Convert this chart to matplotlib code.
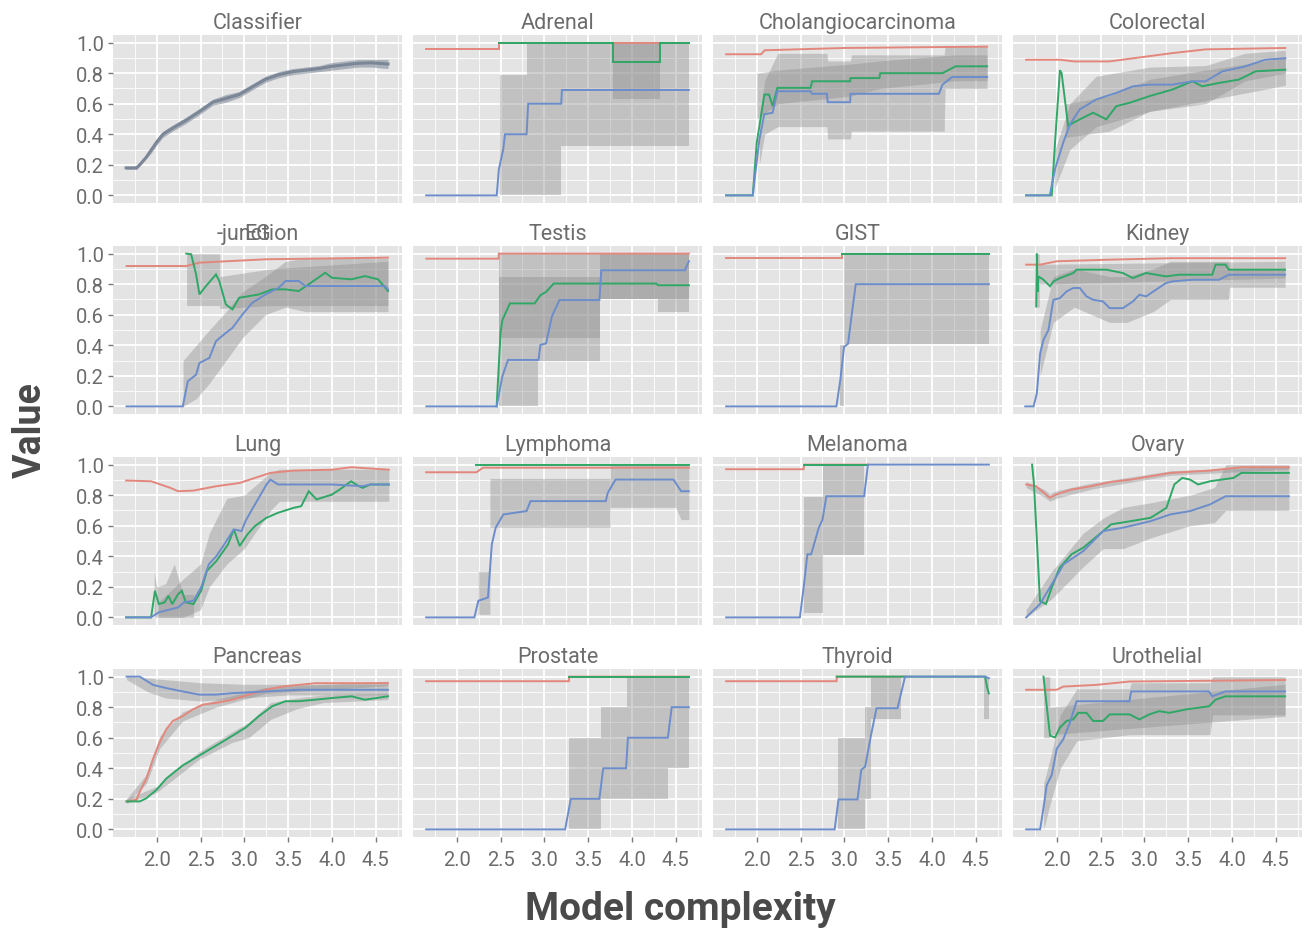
import numpy as np
import matplotlib
matplotlib.use("Agg")
import matplotlib.pyplot as plt

plt.rcParams['font.family'] = ['Roboto', 'DejaVu Sans']

# ---------------- data ----------------
panel_titles = ["Classifier", "Adrenal", "Cholangiocarcinoma", "Colorectal",
                "EG|-junction", "Testis", "GIST", "Kidney",
                "Lung", "Lymphoma", "Melanoma", "Ovary",
                "Pancreas", "Prostate", "Thyroid", "Urothelial"]
y_ticks = [0.0, 0.2, 0.4, 0.6, 0.8, 1.0]
y_tick_labels = ["0.0", "0.2", "0.4", "0.6", "0.8", "1.0"]
x_ticks = [2.0, 2.5, 3.0, 3.5, 4.0, 4.5]
x_tick_labels = ["2.0", "2.5", "3.0", "3.5", "4.0", "4.5"]

# Classifier (single series)
classifier_x = [1.65, 1.70, 1.77, 1.82, 1.88, 1.94, 2.00, 2.07, 2.18, 2.33, 2.49, 2.64, 2.79, 2.94,
                3.09, 3.24, 3.39, 3.55, 3.70, 3.85, 4.00, 4.15, 4.30, 4.45, 4.64]
classifier_y = [0.18, 0.18, 0.18, 0.21, 0.25, 0.30, 0.35, 0.40, 0.44, 0.49, 0.55, 0.61, 0.635, 0.66,
                0.71, 0.76, 0.79, 0.81, 0.82, 0.83, 0.845, 0.855, 0.865, 0.868, 0.86]
classifier_lo = [0.17, 0.17, 0.17, 0.20, 0.24, 0.28, 0.33, 0.38, 0.42, 0.47, 0.53, 0.59, 0.61, 0.64,
                 0.69, 0.74, 0.77, 0.79, 0.80, 0.81, 0.82, 0.83, 0.84, 0.84, 0.83]
classifier_hi = [0.19, 0.19, 0.19, 0.22, 0.26, 0.31, 0.37, 0.42, 0.46, 0.51, 0.57, 0.63, 0.66, 0.68,
                 0.73, 0.78, 0.81, 0.83, 0.84, 0.85, 0.87, 0.88, 0.89, 0.89, 0.89]

# Adrenal
adrenal_red_x = [1.65, 2.48, 2.48, 4.65]
adrenal_red_y = [0.96, 0.96, 1.0, 1.0]
adrenal_green_x = [2.48, 3.78, 3.78, 4.32, 4.32, 4.65]
adrenal_green_y = [1.0, 1.0, 0.87, 0.87, 1.0, 1.0]
adrenal_blue_x = [1.65, 2.456, 2.48, 2.53, 2.551, 2.797, 2.815, 3.193, 3.20, 4.65]
adrenal_blue_y = [0.0, 0.0, 0.17, 0.30, 0.40, 0.40, 0.60, 0.60, 0.69, 0.69]
adrenal_green_band_x = [3.78, 4.32]
adrenal_green_band_lo = [0.63, 0.63]
adrenal_green_band_hi = [1.0, 1.0]
adrenal_blue_band_x = [2.49, 2.80, 2.80, 3.19, 3.19, 4.65]
adrenal_blue_band_lo = [0.0, 0.0, 0.0, 0.0, 0.325, 0.325]
adrenal_blue_band_hi = [0.79, 0.79, 1.0, 1.0, 1.0, 1.0]

# Cholangiocarcinoma
cholangio_red_x = [1.65, 2.05, 2.09, 3.0, 4.63]
cholangio_red_y = [0.924, 0.924, 0.95, 0.965, 0.974]
cholangio_green_x = [1.65, 1.954, 2.0, 2.086, 2.14, 2.18, 2.236, 2.614, 2.632, 3.066, 3.07, 3.40, 3.41,
                     4.12, 4.27, 4.63]
cholangio_green_y = [0.0, 0.0, 0.346, 0.66, 0.66, 0.585, 0.704, 0.704, 0.747, 0.747, 0.768, 0.768, 0.80,
                     0.80, 0.845, 0.845]
cholangio_blue_x = [1.65, 1.954, 2.03, 2.086, 2.18, 2.236, 2.614, 2.632, 2.80, 2.81, 3.066, 3.07, 4.08,
                    4.12, 4.23, 4.63]
cholangio_blue_y = [0.0, 0.0, 0.368, 0.531, 0.541, 0.682, 0.682, 0.665, 0.665, 0.61, 0.61, 0.665, 0.665,
                    0.725, 0.775, 0.775]
cholangio_green_band_x = [2.0, 2.24, 3.07, 3.41, 4.27, 4.63]
cholangio_green_band_lo = [0.5, 0.6, 0.65, 0.7, 0.75, 0.75]
cholangio_green_band_hi = [0.8, 0.82, 0.86, 0.88, 0.92, 0.92]
cholangio_blue_band_x = [2.03, 2.09, 2.24, 2.80, 2.81, 3.07, 3.08, 4.14, 4.15, 4.63]
cholangio_blue_band_lo = [0.2, 0.4, 0.45, 0.45, 0.37, 0.37, 0.42, 0.42, 0.70, 0.70]
cholangio_blue_band_hi = [0.5, 0.75, 0.93, 0.93, 0.88, 0.88, 0.92, 0.92, 0.98, 0.98]

# Colorectal
colorectal_red_x = [1.65, 2.04, 2.2, 2.6, 3.3, 3.7, 4.61]
colorectal_red_y = [0.888, 0.888, 0.877, 0.877, 0.93, 0.956, 0.965]
colorectal_green_x = [1.65, 1.942, 1.98, 2.036, 2.055, 2.13, 2.19, 2.34, 2.415, 2.565, 2.68, 2.83, 3.06,
                      3.32, 3.55, 3.66, 3.85, 4.08, 4.27, 4.61]
colorectal_green_y = [0.0, 0.0, 0.346, 0.82, 0.80, 0.455, 0.476, 0.52, 0.541, 0.498, 0.584, 0.606, 0.65,
                      0.693, 0.747, 0.714, 0.736, 0.758, 0.812, 0.823]
colorectal_blue_x = [1.65, 1.92, 1.98, 2.074, 2.15, 2.263, 2.45, 2.68, 2.87, 3.06, 3.32, 3.55, 3.70, 3.89,
                     4.15, 4.38, 4.61]
colorectal_blue_y = [0.0, 0.0, 0.173, 0.346, 0.465, 0.563, 0.628, 0.671, 0.714, 0.725, 0.725, 0.747,
                     0.747, 0.812, 0.844, 0.888, 0.898]
colorectal_green_band_x = [2.1, 2.6, 3.06, 3.7, 4.61]
colorectal_green_band_lo = [0.38, 0.42, 0.55, 0.62, 0.72]
colorectal_green_band_hi = [0.6, 0.65, 0.76, 0.82, 0.9]
colorectal_blue_band_x = [1.98, 2.15, 2.45, 3.06, 3.70, 4.15, 4.61]
colorectal_blue_band_lo = [0.05, 0.3, 0.45, 0.55, 0.6, 0.75, 0.8]
colorectal_blue_band_hi = [0.3, 0.6, 0.78, 0.84, 0.85, 0.93, 0.95]

# EG-junction
eg_red_x = [1.655, 2.336, 2.487, 3.243, 4.64]
eg_red_y = [0.919, 0.919, 0.941, 0.963, 0.974]
eg_green_x = [2.336, 2.392, 2.449, 2.487, 2.562, 2.676, 2.713, 2.789, 2.864, 2.94, 3.053, 3.166, 3.318,
              3.47, 3.62, 3.734, 3.923, 4.0, 4.225, 4.376, 4.527, 4.64]
eg_green_y = [1.0, 0.996, 0.864, 0.733, 0.788, 0.864, 0.821, 0.667, 0.635, 0.711, 0.722, 0.733, 0.766,
              0.766, 0.755, 0.799, 0.875, 0.842, 0.832, 0.853, 0.832, 0.755]
eg_blue_x = [1.655, 2.297, 2.354, 2.449, 2.487, 2.60, 2.676, 2.789, 2.864, 2.978, 3.09, 3.243, 3.394,
             3.47, 3.62, 3.696, 4.603, 4.64]
eg_blue_y = [0.0, 0.0, 0.164, 0.208, 0.284, 0.317, 0.427, 0.481, 0.514, 0.602, 0.678, 0.733, 0.777,
             0.821, 0.821, 0.788, 0.788, 0.766]
eg_green_band_x = [2.34, 2.72, 2.72, 3.3, 4.64]
eg_green_band_lo = [0.66, 0.66, 0.64, 0.66, 0.66]
eg_green_band_hi = [1.0, 1.0, 0.85, 0.9, 0.95]
eg_blue_band_x = [2.30, 2.45, 2.6, 2.79, 2.98, 3.24, 3.47, 3.70, 4.64]
eg_blue_band_lo = [0.0, 0.05, 0.15, 0.3, 0.45, 0.6, 0.65, 0.62, 0.62]
eg_blue_band_hi = [0.3, 0.4, 0.5, 0.62, 0.75, 0.85, 0.95, 0.97, 0.97]

# Testis
testis_red_x = [1.652, 2.477, 2.48, 4.65]
testis_red_y = [0.967, 0.967, 1.0, 1.0]
testis_green_x = [2.455, 2.477, 2.499, 2.52, 2.607, 2.889, 2.955, 3.02, 3.107, 4.28, 4.30, 4.65]
testis_green_y = [0.0, 0.239, 0.478, 0.565, 0.674, 0.674, 0.728, 0.75, 0.804, 0.804, 0.793, 0.793]
testis_blue_x = [1.652, 2.455, 2.52, 2.585, 2.933, 2.955, 3.02, 3.085, 3.172, 3.628, 3.65, 4.605, 4.65]
testis_blue_y = [0.0, 0.0, 0.196, 0.304, 0.304, 0.402, 0.413, 0.587, 0.696, 0.696, 0.891, 0.891, 0.95]
testis_green_band_x = [2.48, 3.63, 3.63, 4.30, 4.30, 4.65]
testis_green_band_lo = [0.45, 0.45, 0.70, 0.70, 0.62, 0.62]
testis_green_band_hi = [0.85, 0.85, 1.0, 1.0, 1.0, 1.0]
testis_blue_band_x = [2.48, 2.933, 2.933, 3.63, 3.63, 4.65]
testis_blue_band_lo = [0.0, 0.0, 0.30, 0.30, 0.70, 0.70]
testis_blue_band_hi = [1.0, 1.0, 1.0, 1.0, 1.0, 1.0]

# GIST
gist_red_x = [1.65, 2.975, 2.975, 4.65]
gist_red_y = [0.97, 0.97, 1.0, 1.0]
gist_green_x = [2.975, 4.65]
gist_green_y = [1.0, 1.0]
gist_blue_x = [1.65, 2.909, 2.953, 2.997, 3.042, 3.086, 3.13, 4.65]
gist_blue_y = [0.0, 0.0, 0.17, 0.39, 0.41, 0.61, 0.80, 0.80]
gist_blue_band_x = [2.953, 3.0, 3.0, 4.65]
gist_blue_band_lo = [0.0, 0.0, 0.41, 0.41]
gist_blue_band_hi = [0.4, 0.4, 1.0, 1.0]

# Kidney
kidney_red_x = [1.65, 1.81, 2.0, 2.57, 3.3, 4.607]
kidney_red_y = [0.928, 0.928, 0.95, 0.96, 0.97, 0.97]
kidney_green_x = [1.765, 1.772, 1.78, 1.791, 1.848, 1.923, 1.961, 2.037, 2.188, 2.226, 2.566, 2.755,
                  2.869, 3.02, 3.246, 3.397, 3.775, 3.813, 3.926, 3.964, 4.607]
kidney_green_y = [0.654, 1.0, 0.75, 0.851, 0.829, 0.786, 0.818, 0.84, 0.873, 0.895, 0.895, 0.873,
                  0.84, 0.873, 0.851, 0.862, 0.862, 0.928, 0.928, 0.895, 0.895]
kidney_blue_x = [1.64, 1.735, 1.772, 1.81, 1.848, 1.905, 1.961, 2.037, 2.112, 2.188, 2.263, 2.339,
                 2.415, 2.528, 2.604, 2.755, 2.869, 2.944, 3.02, 3.133, 3.246, 3.32, 3.548, 3.85,
                 3.964, 4.607]
kidney_blue_y = [0.0, 0.0, 0.085, 0.348, 0.435, 0.501, 0.698, 0.709, 0.753, 0.775, 0.775, 0.72, 0.698,
                 0.687, 0.643, 0.643, 0.687, 0.731, 0.72, 0.764, 0.807, 0.818, 0.829, 0.829, 0.862,
                 0.862]
kidney_green_band_x = [1.765, 1.80, 1.80, 4.607]
kidney_green_band_lo = [0.65, 0.65, 0.80, 0.84]
kidney_green_band_hi = [1.0, 1.0, 0.93, 0.95]
kidney_blue_band_x = [1.81, 1.96, 2.2, 2.6, 2.8, 3.1, 3.3, 3.96, 3.97, 4.607]
kidney_blue_band_lo = [0.2, 0.55, 0.65, 0.55, 0.55, 0.62, 0.7, 0.7, 0.78, 0.78]
kidney_blue_band_hi = [0.5, 0.85, 0.9, 0.85, 0.85, 0.9, 0.95, 0.95, 0.9, 0.9]

# Lung
lung_red_x = [1.65, 1.935, 2.155, 2.243, 2.419, 2.682, 2.946, 3.121, 3.297, 3.561, 4.0, 4.219, 4.65]
lung_red_y = [0.896, 0.891, 0.848, 0.826, 0.83, 0.859, 0.88, 0.913, 0.946, 0.961, 0.967, 0.983, 0.967]
lung_green_x = [1.65, 1.935, 1.979, 2.023, 2.089, 2.133, 2.177, 2.243, 2.287, 2.331, 2.419, 2.506,
                2.572, 2.682, 2.814, 2.88, 2.946, 3.034, 3.121, 3.253, 3.385, 3.561, 3.649, 3.736,
                3.824, 4.0, 4.088, 4.219, 4.307, 4.351, 4.439, 4.65]
lung_green_y = [0.0, 0.0, 0.174, 0.087, 0.098, 0.141, 0.087, 0.152, 0.174, 0.098, 0.087, 0.174, 0.304,
                0.37, 0.478, 0.576, 0.467, 0.543, 0.598, 0.652, 0.685, 0.717, 0.728, 0.826, 0.772,
                0.804, 0.837, 0.891, 0.859, 0.848, 0.87, 0.87]
lung_blue_x = [1.65, 1.935, 2.023, 2.243, 2.309, 2.419, 2.506, 2.594, 2.682, 2.77, 2.88, 2.968, 3.012,
               3.077, 3.165, 3.253, 3.297, 3.385, 4.0, 4.351, 4.439, 4.65]
lung_blue_y = [0.0, 0.0, 0.033, 0.065, 0.098, 0.109, 0.196, 0.348, 0.402, 0.478, 0.576, 0.565, 0.63,
               0.696, 0.783, 0.87, 0.902, 0.87, 0.87, 0.859, 0.87, 0.87]
lung_green_band_x = [1.97, 2.0, 2.1, 2.2, 2.3, 2.42]
lung_green_band_lo = [0.0, 0.0, 0.0, 0.0, 0.0, 0.0]
lung_green_band_hi = [0.3, 0.2, 0.22, 0.35, 0.15, 0.15]
lung_blue_band_x = [2.02, 2.3, 2.5, 2.6, 2.8, 3.0, 3.3, 3.4, 4.65]
lung_blue_band_lo = [0.0, 0.0, 0.05, 0.2, 0.35, 0.45, 0.7, 0.76, 0.76]
lung_blue_band_hi = [0.1, 0.25, 0.35, 0.55, 0.78, 0.8, 0.95, 0.97, 0.97]

# Lymphoma
lymphoma_red_x = [1.65, 2.224, 2.3, 4.65]
lymphoma_red_y = [0.95, 0.95, 0.98, 0.98]
lymphoma_green_x = [2.224, 4.65]
lymphoma_green_y = [1.0, 1.0]
lymphoma_blue_x = [1.65, 2.201, 2.246, 2.356, 2.378, 2.40, 2.444, 2.532, 2.797, 2.841, 3.701, 3.724,
                   3.812, 4.474, 4.562, 4.65]
lymphoma_blue_y = [0.0, 0.0, 0.109, 0.13, 0.304, 0.478, 0.587, 0.674, 0.696, 0.761, 0.761, 0.815,
                   0.902, 0.902, 0.826, 0.826]
lymphoma_blue_band_x = [2.246, 2.378, 2.378, 3.75, 3.75, 4.5, 4.56, 4.65]
lymphoma_blue_band_lo = [0.02, 0.02, 0.59, 0.59, 0.72, 0.72, 0.64, 0.64]
lymphoma_blue_band_hi = [0.3, 0.3, 0.91, 0.91, 1.0, 1.0, 1.0, 1.0]

# Melanoma
melanoma_red_x = [1.65, 2.535, 2.54, 3.27]
melanoma_red_y = [0.97, 0.97, 1.0, 1.0]
melanoma_green_x = [2.535, 3.269]
melanoma_green_y = [1.0, 1.0]
melanoma_blue_x = [1.65, 2.492, 2.535, 2.578, 2.621, 2.664, 2.708, 2.751, 2.794, 3.226, 3.269, 4.65]
melanoma_blue_y = [0.0, 0.0, 0.196, 0.413, 0.413, 0.50, 0.587, 0.641, 0.793, 0.793, 1.0, 1.0]
melanoma_blue_band_x = [2.535, 2.751, 2.751, 3.226]
melanoma_blue_band_lo = [0.03, 0.03, 0.41, 0.41]
melanoma_blue_band_hi = [0.79, 0.79, 1.0, 1.0]

# Ovary
ovary_red_x = [1.65, 1.763, 1.853, 1.921, 1.988, 2.169, 2.394, 2.62, 2.845, 3.071, 3.297, 3.748, 4.109,
               4.65]
ovary_red_y = [0.87, 0.859, 0.815, 0.783, 0.804, 0.837, 0.859, 0.887, 0.902, 0.924, 0.946, 0.961,
               0.983, 0.983]
ovary_green_x = [1.718, 1.74, 1.808, 1.876, 1.943, 2.033, 2.169, 2.304, 2.394, 2.62, 2.845, 3.071,
                 3.252, 3.342, 3.432, 3.522, 3.612, 3.748, 4.018, 4.109, 4.65]
ovary_green_y = [1.0, 0.87, 0.109, 0.087, 0.196, 0.326, 0.413, 0.457, 0.50, 0.609, 0.63, 0.652, 0.717,
                 0.87, 0.913, 0.902, 0.87, 0.891, 0.913, 0.946, 0.946]
ovary_blue_x = [1.65, 1.808, 1.943, 2.079, 2.304, 2.53, 2.755, 3.071, 3.297, 3.522, 3.748, 3.928, 4.65]
ovary_blue_y = [0.0, 0.087, 0.217, 0.348, 0.435, 0.565, 0.587, 0.63, 0.674, 0.696, 0.739, 0.793, 0.793]
ovary_red_band_x = [1.65, 1.85, 1.92, 2.0, 2.4, 3.3, 4.65]
ovary_red_band_lo = [0.85, 0.79, 0.76, 0.78, 0.84, 0.93, 0.97]
ovary_red_band_hi = [0.89, 0.84, 0.81, 0.83, 0.88, 0.96, 0.99]
ovary_blue_band_x = [1.65, 1.94, 2.3, 2.53, 2.76, 3.07, 3.52, 3.8, 3.93, 4.65]
ovary_blue_band_lo = [0.0, 0.12, 0.33, 0.45, 0.45, 0.52, 0.6, 0.62, 0.70, 0.70]
ovary_blue_band_hi = [0.05, 0.3, 0.55, 0.65, 0.72, 0.75, 0.8, 0.85, 1.0, 1.0]

# Pancreas
pancreas_red_x = [1.655, 1.769, 1.806, 1.882, 1.957, 2.033, 2.109, 2.184, 2.297, 2.41, 2.525, 2.676,
                  2.864, 3.054, 3.243, 3.431, 3.81, 4.64]
pancreas_red_y = [0.183, 0.194, 0.247, 0.333, 0.462, 0.57, 0.656, 0.71, 0.742, 0.785, 0.817, 0.828,
                  0.849, 0.882, 0.914, 0.935, 0.957, 0.957]
pancreas_green_x = [1.655, 1.806, 1.882, 1.995, 2.109, 2.297, 2.487, 2.676, 2.864, 3.016, 3.167, 3.318,
                    3.469, 3.62, 3.81, 3.998, 4.225, 4.376, 4.64]
pancreas_green_y = [0.183, 0.183, 0.204, 0.258, 0.333, 0.419, 0.484, 0.548, 0.613, 0.667, 0.742, 0.806,
                    0.839, 0.839, 0.849, 0.86, 0.871, 0.849, 0.871]
pancreas_blue_x = [1.655, 1.806, 1.957, 2.109, 2.297, 2.487, 2.676, 2.864, 3.243, 3.62, 4.64]
pancreas_blue_y = [1.0, 1.0, 0.946, 0.925, 0.903, 0.882, 0.882, 0.892, 0.903, 0.914, 0.914]
pancreas_red_band_x = [1.655, 1.882, 2.033, 2.297, 2.676, 3.243, 4.64]
pancreas_red_band_lo = [0.17, 0.30, 0.53, 0.71, 0.80, 0.89, 0.94]
pancreas_red_band_hi = [0.20, 0.36, 0.61, 0.77, 0.85, 0.93, 0.97]
pancreas_green_band_x = [1.655, 1.995, 2.487, 2.864, 3.05, 3.3, 3.6, 3.9, 4.64]
pancreas_green_band_lo = [0.17, 0.24, 0.46, 0.57, 0.60, 0.72, 0.79, 0.83, 0.85]
pancreas_green_band_hi = [0.20, 0.28, 0.51, 0.64, 0.70, 0.83, 0.86, 0.88, 0.89]
pancreas_blue_band_x = [1.655, 1.9, 2.1, 2.5, 3.0, 3.5, 4.64]
pancreas_blue_band_lo = [0.98, 0.90, 0.86, 0.84, 0.86, 0.88, 0.88]
pancreas_blue_band_hi = [1.0, 0.99, 0.98, 0.96, 0.95, 0.95, 0.95]

# Prostate
prostate_red_x = [1.65, 3.28, 3.285, 4.65]
prostate_red_y = [0.97, 0.97, 1.0, 1.0]
prostate_green_x = [3.28, 4.65]
prostate_green_y = [1.0, 1.0]
prostate_blue_x = [1.65, 3.237, 3.302, 3.628, 3.672, 3.933, 3.954, 4.41, 4.454, 4.65]
prostate_blue_y = [0.0, 0.0, 0.2, 0.2, 0.4, 0.4, 0.6, 0.6, 0.8, 0.8]
prostate_blue_band_x = [3.28, 3.65, 3.65, 3.94, 3.94, 4.41, 4.41, 4.65]
prostate_blue_band_lo = [0.0, 0.0, 0.2, 0.2, 0.2, 0.2, 0.4, 0.4]
prostate_blue_band_hi = [0.6, 0.6, 0.8, 0.8, 1.0, 1.0, 1.0, 1.0]

# Thyroid
thyroid_red_x = [1.65, 2.911, 2.915, 3.69]
thyroid_red_y = [0.97, 0.97, 1.0, 1.0]
thyroid_green_x = [2.911, 4.585, 4.607, 4.63, 4.65]
thyroid_green_y = [1.0, 1.0, 1.0, 0.93, 0.89]
thyroid_blue_x = [1.65, 2.889, 2.933, 3.15, 3.193, 3.237, 3.302, 3.367, 3.607, 3.693, 4.607, 4.65]
thyroid_blue_y = [0.0, 0.0, 0.196, 0.196, 0.39, 0.41, 0.61, 0.793, 0.793, 1.0, 1.0, 0.99]
thyroid_green_band_x = [4.59, 4.65]
thyroid_green_band_lo = [0.72, 0.72]
thyroid_green_band_hi = [1.0, 1.0]
thyroid_blue_band_x = [2.93, 3.24, 3.24, 3.30, 3.30, 3.65]
thyroid_blue_band_lo = [0.0, 0.0, 0.2, 0.2, 0.72, 0.72]
thyroid_blue_band_hi = [0.6, 0.6, 0.8, 0.8, 1.0, 1.0]

# Urothelial
urothelial_red_x = [1.65, 1.999, 2.075, 2.452, 2.83, 4.607]
urothelial_red_y = [0.914, 0.914, 0.935, 0.946, 0.968, 0.978]
urothelial_green_x = [1.848, 1.923, 1.98, 2.037, 2.112, 2.188, 2.245, 2.339, 2.415, 2.528, 2.604, 2.83,
                      2.944, 3.057, 3.17, 3.284, 3.473, 3.738, 3.813, 3.926, 4.607]
urothelial_green_y = [1.0, 0.613, 0.602, 0.667, 0.71, 0.72, 0.763, 0.763, 0.71, 0.71, 0.753, 0.753,
                      0.72, 0.753, 0.774, 0.763, 0.785, 0.806, 0.849, 0.871, 0.871]
urothelial_blue_x = [1.65, 1.81, 1.848, 1.885, 1.942, 1.999, 2.075, 2.15, 2.226, 2.83, 2.849, 3.738,
                     3.775, 3.926, 4.607]
urothelial_blue_y = [0.0, 0.0, 0.14, 0.29, 0.355, 0.527, 0.591, 0.699, 0.839, 0.839, 0.903, 0.903,
                     0.871, 0.903, 0.903]
urothelial_green_band_x = [1.85, 1.92, 1.92, 4.607]
urothelial_green_band_lo = [0.6, 0.6, 0.62, 0.74]
urothelial_green_band_hi = [1.0, 1.0, 0.8, 0.95]
urothelial_blue_band_x = [1.85, 1.94, 2.04, 2.23, 2.83, 2.85, 3.75, 3.78, 4.607]
urothelial_blue_band_lo = [0.0, 0.2, 0.4, 0.58, 0.62, 0.62, 0.62, 0.75, 0.75]
urothelial_blue_band_hi = [0.3, 0.5, 0.75, 0.92, 0.92, 0.96, 0.96, 1.0, 1.0]

# ---------------- tables built from the arrays ----------------
g = globals()
prefixes = [None, "adrenal", "cholangio", "colorectal", "eg", "testis", "gist", "kidney",
            "lung", "lymphoma", "melanoma", "ovary", "pancreas", "prostate", "thyroid", "urothelial"]

RED = "#E3877D"
GREEN = "#2FA766"
BLUE = "#6C8DCB"
BAND = "#8A8A8A"
colors = {"red": RED, "green": GREEN, "blue": BLUE}

# ---------------- figure ----------------
W, H = 1307, 937
fig = plt.figure(figsize=(W / 100, H / 100), dpi=100)
fig.patch.set_facecolor("white")

lefts = [113, 413, 713, 1013]
tops = [36, 247, 458, 670]
pw, ph = 289, 168
TXT = "#6c6c6c"

for i, title in enumerate(panel_titles):
    r, c = divmod(i, 4)
    ax = fig.add_axes([lefts[c] / W, 1 - (tops[r] + ph) / H, pw / W, ph / H])
    ax.set_facecolor("#E4E4E4")
    ax.set_xlim(1.5, 4.8)
    ax.set_ylim(-0.05, 1.05)
    ax.set_xticks(x_ticks)
    ax.set_yticks(y_ticks)
    ax.set_xticks([1.75, 2.25, 2.75, 3.25, 3.75, 4.25, 4.75], minor=True)
    ax.set_yticks([0.1, 0.3, 0.5, 0.7, 0.9], minor=True)
    ax.grid(which="major", color="white", linewidth=1.3)
    ax.grid(which="minor", color="white", linewidth=0.6)
    ax.set_axisbelow(True)
    for s in ax.spines.values():
        s.set_visible(False)
    ax.tick_params(which="minor", length=0)
    ax.tick_params(which="major", length=3.5, width=1.0, color="#7a7a7a",
                   labelsize=14.5, labelcolor=TXT)
    ax.tick_params(axis="x", pad=6)
    ax.tick_params(axis="y", pad=3)
    if c == 0:
        ax.set_yticklabels(y_tick_labels)
    else:
        ax.tick_params(axis="y", length=0, labelleft=False)
    if r == 3:
        ax.set_xticklabels(x_tick_labels)
    else:
        ax.tick_params(axis="x", length=0, labelbottom=False)

    # strip title
    for part in title.split("|"):
        ax.text(0.5, 1.012, part, transform=ax.transAxes, ha="center", va="bottom",
                fontsize=15.5, color=TXT)

    if i == 0:
        ax.fill_between(classifier_x, classifier_lo, classifier_hi, color="#7b8696",
                        alpha=0.55, linewidth=0)
        ax.plot(classifier_x, classifier_y, color="#7b8696", linewidth=2.2)
        continue

    p = prefixes[i]
    for col in ["red", "green", "blue"]:
        key = f"{p}_{col}_band_x"
        if key in g:
            ax.fill_between(g[key], g[f"{p}_{col}_band_lo"], g[f"{p}_{col}_band_hi"],
                            color=BAND, alpha=0.38, linewidth=0)
    for col in ["red", "green", "blue"]:
        ax.plot(g[f"{p}_{col}_x"], g[f"{p}_{col}_y"], color=colors[col], linewidth=1.4,
                solid_joinstyle="miter")

fig.text(30 / W, 1 - 430 / H, "Value", rotation=90, ha="center", va="center",
         fontsize=27, fontweight="bold", color="#4a4a4a")
fig.text(680 / W, 1 - 910 / H, "Model complexity", ha="center", va="center",
         fontsize=28, fontweight="bold", color="#4a4a4a")

fig.savefig("out.png", dpi=100, facecolor="white")
